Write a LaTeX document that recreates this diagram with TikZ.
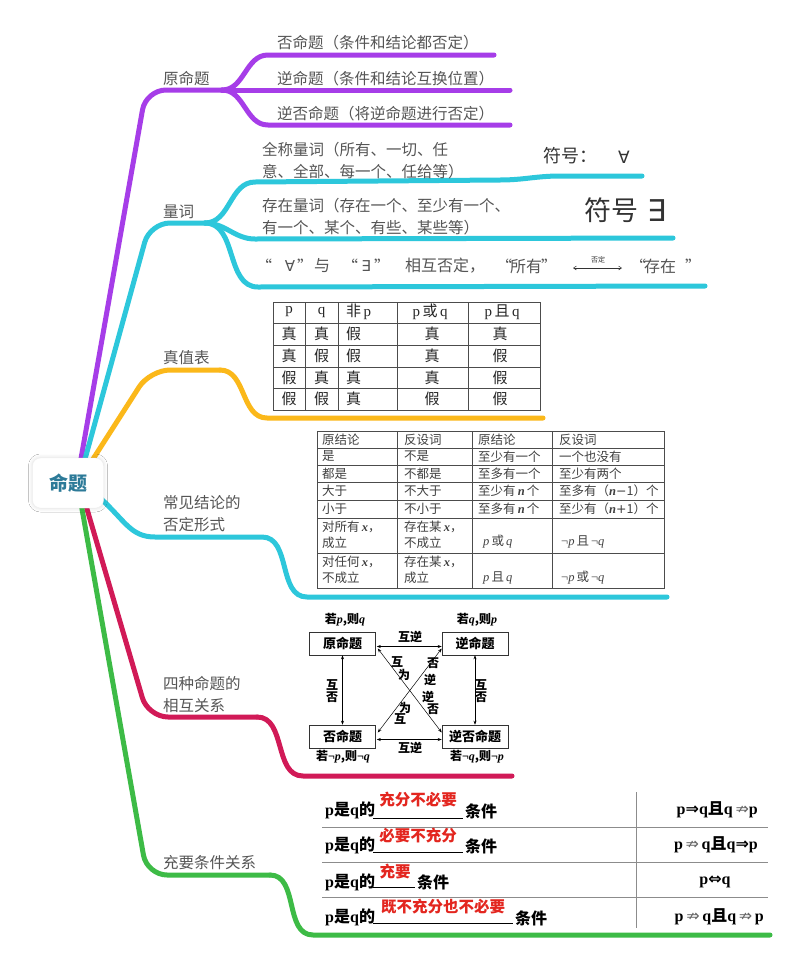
\documentclass[tikz,border=0pt]{standalone}
\usepackage{fontspec}
\setmainfont{Noto Sans CJK SC}
\newfontfamily\symf{DejaVu Sans}
\newfontfamily\serifl{Liberation Serif}
\usetikzlibrary{arrows.meta,shadows.blur}
\definecolor{cpurple}{HTML}{A63DE8}
\definecolor{ccyan}{HTML}{2DC7DB}
\definecolor{corange}{HTML}{FBB81A}
\definecolor{ccrimson}{HTML}{D11A57}
\definecolor{cgreen}{HTML}{3DBB46}
\definecolor{ctext}{HTML}{555555}
\definecolor{croot}{HTML}{2C7A98}
\definecolor{cred}{HTML}{E3261F}
\tikzset{
 br/.style={line width=5pt,line cap=round,line join=round},
 mm/.style={inner sep=0pt,text=ctext,font=\fontsize{15.5}{22}\selectfont,align=left},
 qs/.style={inner sep=0pt,text=ctext,font=\fontsize{16}{20}\selectfont},
 tt/.style={inner sep=0pt,text=black!85,font=\fontsize{15}{18}\selectfont},
 ct/.style={inner sep=0pt,text=black!75,font=\fontsize{12.5}{15.5}\selectfont,anchor=west,align=left},
 gridline/.style={draw=black!70,line width=0.7pt},
 pbox/.style={draw=black!80,line width=0.6pt,minimum width=66,minimum height=23,inner sep=0pt,font=\fontsize{13}{15}\selectfont\bfseries},
 pl/.style={inner sep=0pt,font=\fontsize{12}{14}\selectfont\bfseries},
 dbl/.style={{Stealth[length=4pt,width=3pt]}-{Stealth[length=4pt,width=3pt]},line width=0.5pt},
 cd/.style={inner sep=0pt,font=\fontsize{16}{18}\selectfont\bfseries,anchor=west},
 rd/.style={inner sep=0pt,text=cred,font=\fontsize{15.5}{18}\selectfont\bfseries},
 rootbox/.style={draw=black!6,fill=white,rounded corners=8,minimum width=71,minimum height=50,
   font=\fontsize{19}{22}\selectfont\bfseries,text=croot,
   blur shadow={shadow xshift=0pt,shadow yshift=0pt,shadow blur radius=4pt,shadow opacity=15}},
}
\begin{document}
\begin{tikzpicture}[x=1pt,y=-1pt]
\fill[white] (0,0) rectangle (800,967);
\useasboundingbox (0,0) rectangle (800,967);

% ---------- branches ----------
% purple
\draw[br,cpurple,rounded corners=20] (79,470) -- (146,90) -- (222,90);
\draw[br,cpurple] (222,90) to[out=0,in=180] (268,55) -- (494,55);
\draw[br,cpurple] (222,90) -- (510,90);
\draw[br,cpurple] (222,90) to[out=0,in=180] (268,125) -- (510,125);
% cyan 1
\draw[br,ccyan,rounded corners=20] (82,470) -- (150,223) -- (205,223);
\draw[br,ccyan] (205,223) to[out=0,in=180] (255,182) -- (500,180) to[out=0,in=180] (560,176) -- (642,176);
\draw[br,ccyan] (205,223) to[out=0,in=180] (255,239) -- (673,238);
\draw[br,ccyan] (205,223) to[out=0,in=180] (258,287) -- (705,286);
% orange
\draw[br,corange,rounded corners=20] (86,470) -- (150,370) -- (220,370);
\draw[br,corange] (220,370) to[out=0,in=180] (267,418) -- (543,418);
% cyan 2
\draw[br,ccyan] (98,496) .. controls (125,520) and (130,537) .. (155,537) -- (262,537) to[out=0,in=180] (307,597) -- (667,597);
% crimson
\draw[br,ccrimson,rounded corners=20] (82,492) -- (148,717) -- (257,717);
\draw[br,ccrimson] (257,717) to[out=0,in=180] (303,776) -- (512,776);
% green
\draw[br,cgreen,rounded corners=20] (79,492) -- (147,875) -- (270,875);
\draw[br,cgreen] (270,875) to[out=0,in=180] (313,935) -- (770,935);

% ---------- root ----------
\node[rootbox] (root) at (68,483) {命题};

% ---------- branch labels ----------
\node[mm,anchor=west] (l1) at (163,79) {原命题};
\node[mm,anchor=west] (l2) at (163,212) {量词};
\node[mm,anchor=west] (l3) at (163,358) {真值表};
\node[mm,anchor=west] (l4) at (163,514) {常见结论的\\否定形式};
\node[mm,anchor=west] (l5) at (163,694) {四种命题的\\相互关系};
\node[mm,anchor=west] (l6) at (163,863) {充要条件关系};

% purple sub items
\node[mm,anchor=west] (a1) at (277,43) {否命题（条件和结论都否定）};
\node[mm,anchor=west] (a2) at (277,79) {逆命题（条件和结论互换位置）};
\node[mm,anchor=west] (a3) at (277,114) {逆否命题（将逆命题进行否定）};

% quantifiers
\node[mm,anchor=west] (q1) at (262,161) {全称量词（所有、一切、任\\意、全部、每一个、任给等）};
\node[mm,anchor=west] (q2) at (262,217) {存在量词（存在一个、至少有一个、\\有一个、某个、有些、某些等）};
\node[inner sep=0pt,anchor=west,text=black!80,font=\fontsize{18}{20}\selectfont] (s1) at (543,156) {符号：};
\node[inner sep=0pt,text=black!80,font=\symf\fontsize{17}{20}\selectfont] (s1b) at (624,157) {∀};
\node[inner sep=0pt,anchor=west,text=black!80,font=\fontsize{27}{30}\selectfont] (s2) at (584,210) {符号};
\node[inner sep=0pt,text=black!80,font=\symf\fontsize{30}{32}\selectfont] (s2b) at (657,211) {∃};

\node[qs] (q3a) at (264,266) {“};
\node[qs,font=\symf\fontsize{15}{18}\selectfont] (q3b) at (290,266) {∀};
\node[qs] (q3c) at (305,266) {”};
\node[qs] (q3d) at (322,266) {与};
\node[qs] (q3e) at (350,266) {“};
\node[qs,font=\symf\fontsize{15}{18}\selectfont] (q3f) at (366,266) {∃};
\node[qs] (q3g) at (382,266) {”};
\node[qs,anchor=west] (q3h) at (405,266) {相互否定，};
\node[qs] (q3i) at (504,266) {“};
\node[qs,anchor=west] (q3j) at (510,266) {所有};
\node[qs] (q3k) at (549,266) {”};
\coordinate (ar1) at (573,268);
\coordinate (ar2) at (622,268);
\draw[{Straight Barb[length=3pt,width=4pt]}-{Straight Barb[length=3pt,width=4pt]},line width=0.5pt,black!80] (ar1) -- (ar2);
\node[inner sep=0pt,font=\fontsize{7}{8}\selectfont,text=black!80] (q3l) at (598,260) {否定};
\node[qs] (q3m) at (638,266) {“};
\node[qs,anchor=west] (q3n) at (644,266) {存在};
\node[qs] (q3o) at (693,266) {”};

% ---------- truth table ----------
\draw[gridline] (273,302) rectangle (540,410);
\foreach \yy in {323,345,367,388} \draw[gridline] (273,\yy) -- (540,\yy);
\foreach \xx in {305,338,397,468} \draw[gridline] (\xx,302) -- (\xx,410);
\node[tt] (h1) at (289,312) {\serifl p};
\node[tt] (h2) at (321.5,312) {\serifl q};
\node[tt,anchor=west] (h3) at (346,312) {非\,{\serifl p}};
\node[tt] (h4) at (430,312) {{\serifl p}\,或\,{\serifl q}};
\node[tt] (h5) at (502,312) {{\serifl p}\,且\,{\serifl q}};
\foreach \a/\b/\c/\d/\e [count=\i] in {真/真/假/真/真,真/假/假/真/假,假/真/真/真/假,假/假/真/假/假}{
  \pgfmathsetmacro{\yy}{312+\i*21.8}
  \node[tt] (r\i c1) at (289,\yy) {\a};
  \node[tt] (r\i c2) at (321.5,\yy) {\b};
  \node[tt,anchor=west] (r\i c3) at (346,\yy) {\c};
  \node[tt] (r\i c4) at (432,\yy) {\d};
  \node[tt] (r\i c5) at (500,\yy) {\e};
}

% ---------- conclusions table ----------
\draw[gridline] (317,431) rectangle (664,588);
\foreach \yy in {448,465,482,500,518,553} \draw[gridline] (317,\yy) -- (664,\yy);
\foreach \xx in {397,472,552} \draw[gridline] (\xx,431) -- (\xx,588);
\node[ct] (k01) at (322,440) {原结论};
\node[ct] (k02) at (404,440) {反设词};
\node[ct] (k03) at (478,440) {原结论};
\node[ct] (k04) at (559,440) {反设词};
\node[ct] (k11) at (322,456.5) {是};
\node[ct] (k12) at (404,456.5) {不是};
\node[ct] (k13) at (478,456.5) {至少有一个};
\node[ct] (k14) at (559,456.5) {一个也没有};
\node[ct] (k21) at (322,473.5) {都是};
\node[ct] (k22) at (404,473.5) {不都是};
\node[ct] (k23) at (478,473.5) {至多有一个};
\node[ct] (k24) at (559,473.5) {至少有两个};
\node[ct] (k31) at (322,491) {大于};
\node[ct] (k32) at (404,491) {不大于};
\node[ct] (k33) at (478,491) {至少有\,{\serifl\itshape\bfseries n}\,个};
\node[ct] (k34) at (559,491) {至多有（{\serifl\itshape\bfseries n}{\symf −}1）个};
\node[ct] (k41) at (322,509) {小于};
\node[ct] (k42) at (404,509) {不小于};
\node[ct] (k43) at (478,509) {至多有\,{\serifl\itshape\bfseries n}\,个};
\node[ct] (k44) at (559,509) {至少有（{\serifl\itshape\bfseries n}{\symf +}1）个};
\node[ct] (k51) at (322,535) {对所有\,{\serifl\itshape\bfseries x}，\\成立};
\node[ct] (k52) at (404,535) {存在某\,{\serifl\itshape\bfseries x}，\\不成立};
\node[ct] (k53) at (483,542) {{\serifl\itshape p}\,或\,{\serifl\itshape q}};
\node[ct] (k54) at (561,542) {{\serifl ¬\itshape p}\,且\,{\serifl ¬\itshape q}};
\node[ct] (k61) at (322,570) {对任何\,{\serifl\itshape\bfseries x}，\\不成立};
\node[ct] (k62) at (404,570) {存在某\,{\serifl\itshape\bfseries x}，\\成立};
\node[ct] (k63) at (483,578) {{\serifl\itshape p}\,且\,{\serifl\itshape q}};
\node[ct] (k64) at (561,578) {{\serifl ¬\itshape p}\,或\,{\serifl ¬\itshape q}};

% ---------- four propositions ----------
\node[pbox] (p1) at (342.5,643.5) {原命题};
\node[pbox] (p2) at (475,643.5) {逆命题};
\node[pbox] (p3) at (342.5,736.5) {否命题};
\node[pbox] (p4) at (475,736.5) {逆否命题};
\node[pl] (pl1) at (345,620) {若{\serifl\itshape p},则{\serifl\itshape q}};
\node[pl] (pl2) at (477,620) {若{\serifl\itshape q},则{\serifl\itshape p}};
\node[pl] (pl3) at (343,757) {若{\serifl ¬\itshape p},则{\serifl ¬\itshape q}};
\node[pl] (pl4) at (477,757) {若{\serifl ¬\itshape q},则{\serifl ¬\itshape p}};
\draw[dbl] ([shift={(1,3)}]p1.east) -- ([shift={(0,3)}]p2.west);
\draw[dbl] ([shift={(1,3)}]p3.east) -- ([shift={(0,3)}]p4.west);
\draw[dbl] (p1.south) -- (p3.north);
\draw[dbl] (p2.south) -- (p4.north);
\draw[dbl] ([shift={(2,5)}]p1.east) -- ([shift={(0,-4)}]p4.west);
\draw[dbl] ([shift={(0,5)}]p2.west) -- ([shift={(2,-4)}]p3.east);
\node[pl] (m1) at (410,637) {互逆};
\node[pl] (m2) at (410,748) {互逆};
\node[pl] (m3) at (332,685) {互};
\node[pl] (m4) at (332,697) {否};
\node[pl] (m5) at (481,685) {互};
\node[pl] (m6) at (481,697) {否};
\node[pl] (d1) at (397,662) {互};
\node[pl] (d2) at (404,675) {为};
\node[pl] (d3) at (433,663) {否};
\node[pl] (d4) at (430,680) {逆};
\node[pl] (d5) at (428,697) {逆};
\node[pl] (d6) at (433,709) {否};
\node[pl] (d7) at (405,708) {为};
\node[pl] (d8) at (400,719) {互};

% ---------- conditions table ----------
\foreach \yy in {827,862,897} \draw[draw=black!45,line width=0.7pt] (322,\yy) -- (768,\yy);
\draw[draw=black!45,line width=0.7pt] (636,792) -- (636,928);
% row 1
\node[cd] (c1a) at (325,810) {{\serifl p}是{\serifl q}的};
\draw[line width=0.6pt] (373,818) -- (463,818);
\node[rd] (c1r) at (418,800) {充分不必要};
\node[cd] (c1b) at (465,811) {条件};
\node[cd,anchor=east] (c1c) at (758,810) {{\serifl p}{\symf ⇒}{\serifl q}且{\serifl q}\,{\symf\mdseries\color{black!60}⇏}{\serifl p}};
% row 2
\node[cd] (c2a) at (325,845) {{\serifl p}是{\serifl q}的};
\draw[line width=0.6pt] (373,852) -- (463,852);
\node[rd] (c2r) at (418,836) {必要不充分};
\node[cd] (c2b) at (465,846) {条件};
\node[cd,anchor=east] (c2c) at (758,845) {{\serifl p}\,{\symf\mdseries\color{black!60}⇏}\,{\serifl q}且{\serifl q}{\symf ⇒}{\serifl p}};
% row 3
\node[cd] (c3a) at (325,882) {{\serifl p}是{\serifl q}的};
\draw[line width=0.6pt] (373,887) -- (415,887);
\node[rd] (c3r) at (395,872) {充要};
\node[cd] (c3b) at (417,882) {条件};
\node[cd,anchor=center] (c3c) at (715,882) {{\serifl p}{\symf ⇔}{\serifl q}};
% row 4
\node[cd] (c4a) at (325,917) {{\serifl p}是{\serifl q}的};
\draw[line width=0.6pt] (373,923) -- (513,923);
\node[rd] (c4r) at (443,907) {既不充分也不必要};
\node[cd] (c4b) at (515,918) {条件};
\node[cd,anchor=east] (c4c) at (764,917) {{\serifl p}\,{\symf\mdseries\color{black!60}⇏}\,{\serifl q}且{\serifl q}\,{\symf\mdseries\color{black!60}⇏}\,{\serifl p}};
\end{tikzpicture}
\end{document}
